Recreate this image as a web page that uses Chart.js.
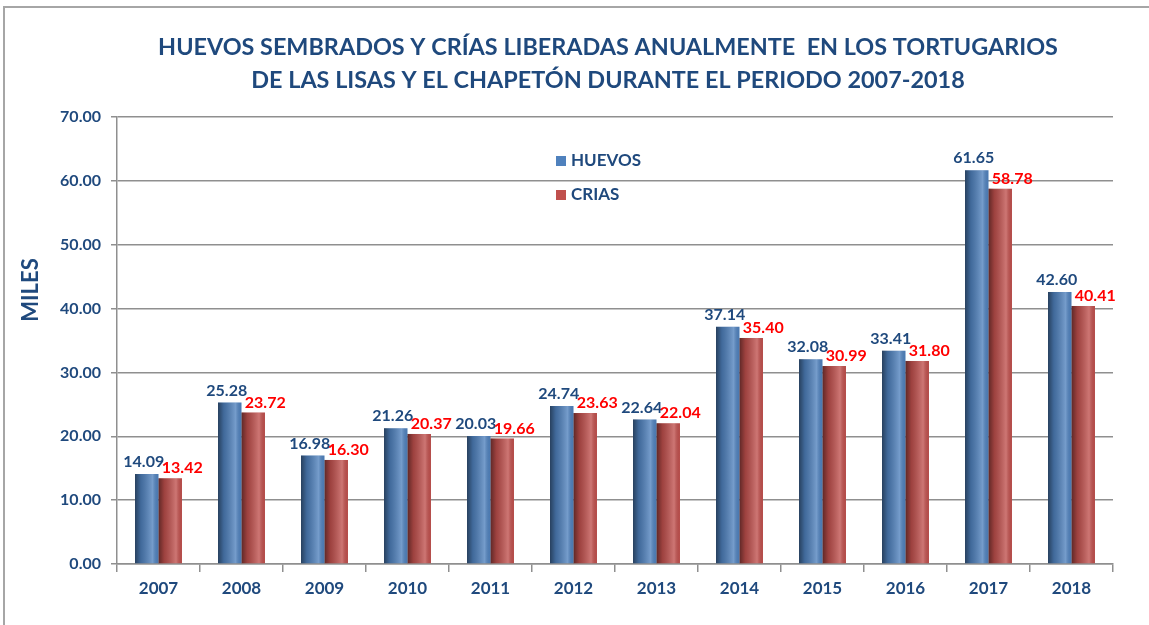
<!DOCTYPE html>
<html>
<head>
<meta charset="utf-8">
<script src="https://cdn.jsdelivr.net/npm/chart.js@4.4.1/dist/chart.umd.min.js"></script>
<style>
  html, body { margin: 0; padding: 0; background: #fff; overflow: hidden; }
  #frame { position: absolute; left: 3px; top: 6px; width: 1200px; height: 700px;
           border-top: 2px solid #a6a6a6; border-left: 2px solid #a6a6a6; }
  #wrap { position: absolute; left: 0; top: 0; width: 1149px; height: 625px; }
</style>
</head>
<body>
<div id="frame"></div>
<div id="wrap"><canvas id="chart" width="1149" height="625"></canvas></div>
<script>
const years = ["2007", "2008", "2009", "2010", "2011", "2012", "2013", "2014", "2015", "2016", "2017", "2018"];
const huevos = [14.09, 25.28, 16.98, 21.26, 20.03, 24.74, 22.64, 37.14, 32.08, 33.41, 61.65, 42.60];
const crias = [13.42, 23.72, 16.30, 20.37, 19.66, 23.63, 22.04, 35.40, 30.99, 31.80, 58.78, 40.41];
const titleLines = [
    "HUEVOS SEMBRADOS Y CRÍAS LIBERADAS ANUALMENTE  EN LOS TORTUGARIOS",
    "DE LAS LISAS Y EL CHAPETÓN DURANTE EL PERIODO 2007-2018"
];
const yTitle = "MILES";

const navy = '#1F497D';
const fontFam = 'Lato, "Open Sans", sans-serif';

// titulo del grafico y del eje Y
const titlePlugin = {
    id: 'titles',
    beforeDraw(chart) {
        const ctx = chart.ctx;
        ctx.save();
        ctx.fillStyle = navy;
        ctx.textAlign = 'center';
        ctx.textBaseline = 'middle';
        ctx.font = 'bold 23.4px ' + fontFam;
        titleLines.forEach((t, i) => ctx.fillText(t, 608, 47 + i * 33));
        ctx.translate(31, 290);
        ctx.rotate(-Math.PI / 2);
        ctx.font = 'bold 22px ' + fontFam;
        ctx.fillText(yTitle, 0, 0);
        ctx.restore();
    }
};

// sombreado tipo cilindro sobre cada barra
const shadePlugin = {
    id: 'shade',
    afterDatasetsDraw(chart) {
        const ctx = chart.ctx;
        chart.data.datasets.forEach((ds, di) => {
            chart.getDatasetMeta(di).data.forEach(bar => {
                const left = bar.x - bar.width / 2;
                const g = ctx.createLinearGradient(left, 0, left + bar.width, 0);
                g.addColorStop(0, 'rgba(0,0,0,0.5)');
                g.addColorStop(0.25, 'rgba(0,0,0,0.18)');
                g.addColorStop(0.75, 'rgba(255,255,255,0.22)');
                g.addColorStop(1, 'rgba(0,0,0,0.05)');
                ctx.save();
                ctx.fillStyle = g;
                ctx.fillRect(left, bar.y, bar.width, bar.base - bar.y);
                ctx.restore();
            });
        });
    }
};

// etiquetas de valores y leyenda
const labelPlugin = {
    id: 'valueLabels',
    afterDraw(chart) {
        const ctx = chart.ctx;
        ctx.save();
        ctx.font = 'bold 16px ' + fontFam;
        ctx.textBaseline = 'middle';
        ctx.textAlign = 'center';
        chart.getDatasetMeta(0).data.forEach((bar, i) => {
            ctx.fillStyle = navy;
            ctx.fillText(huevos[i].toFixed(2), bar.x - 3, bar.y - 12);
        });
        chart.getDatasetMeta(1).data.forEach((bar, i) => {
            ctx.fillStyle = '#FF0000';
            ctx.fillText(crias[i].toFixed(2), bar.x + 12, bar.y - 10);
        });

        // leyenda
        const a = chart.chartArea;
        const lx = a.left + 439, ly = a.top + 44;
        ctx.textAlign = 'left';
        ctx.font = 'bold 17px ' + fontFam;
        chart.data.datasets.forEach((ds, i) => {
            const y = ly + i * 34;
            ctx.fillStyle = ds.backgroundColor;
            ctx.fillRect(lx, y - 5, 10, 10);
            ctx.fillStyle = navy;
            ctx.fillText(ds.label, lx + 15, y);
        });
        ctx.restore();
    }
};

const ctx = document.getElementById('chart').getContext('2d');
new Chart(ctx, {
    type: 'bar',
    data: {
        labels: years,
        datasets: [
            { label: 'HUEVOS', data: huevos, backgroundColor: '#4F81BD' },
            { label: 'CRIAS', data: crias, backgroundColor: '#C0504D' }
        ]
    },
    options: {
        responsive: false,
        animation: false,
        categoryPercentage: 0.566,
        barPercentage: 1.0,
        layout: { padding: { left: 0, right: 36, top: 117, bottom: 0 } },
        plugins: {
            legend: { display: false },
            tooltip: { enabled: false },
            title: { display: false }
        },
        scales: {
            x: {
                afterFit(scale) { scale.height = 61; },
                grid: { drawOnChartArea: false, drawTicks: true, tickLength: 8, color: '#8f8f8f', lineWidth: 1.5, offset: true },
                border: { color: '#8f8f8f', width: 1.5 },
                ticks: { color: navy, padding: 6, font: { family: fontFam, size: 17, weight: 'bold' } }
            },
            y: {
                min: 0,
                max: 70,
                afterFit(scale) { scale.width = 117; },
                grid: { color: '#8f8f8f', lineWidth: 1.5, tickLength: 6 },
                border: { color: '#8f8f8f', width: 1.5 },
                ticks: {
                    stepSize: 10,
                    color: navy,
                    padding: 10,
                    font: { family: fontFam, size: 16, weight: 'bold' },
                    callback: v => v.toFixed(2)
                }
            }
        }
    },
    plugins: [titlePlugin, shadePlugin, labelPlugin]
});
</script>
</body>
</html>
